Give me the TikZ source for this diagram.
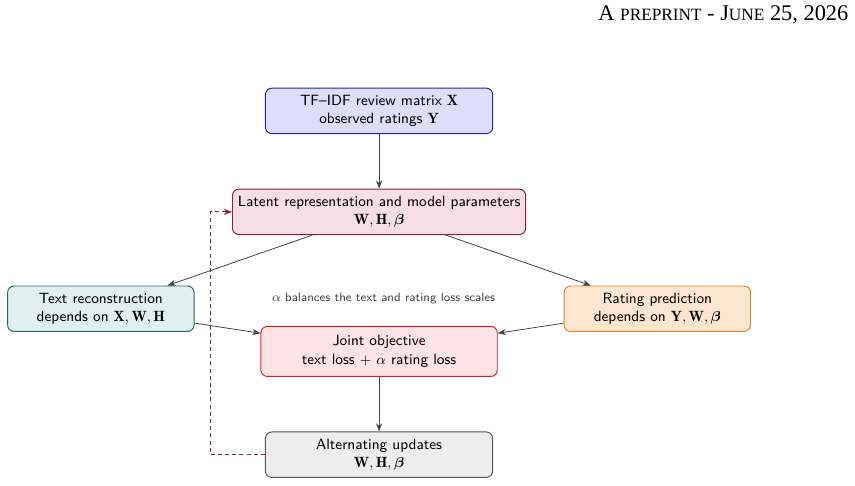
\documentclass[tikz,border=0pt]{standalone}
\usepackage{amsmath,bm}
\usepackage{fontspec}
\newfontfamily\hdrfont{Liberation Serif}
\usetikzlibrary{arrows.meta,positioning}
\definecolor{arrgrey}{HTML}{444444}
\definecolor{inblue}{HTML}{2323C8}
\definecolor{inground}{HTML}{DEDEFA}
\definecolor{latred}{HTML}{8C1A4A}
\definecolor{latground}{HTML}{F5DEE6}
\definecolor{recteal}{HTML}{1C6B6B}
\definecolor{recground}{HTML}{DFF0EF}
\definecolor{ratorange}{HTML}{E8821E}
\definecolor{ratground}{HTML}{FDE6CF}
\definecolor{objred}{HTML}{CC2424}
\definecolor{objground}{HTML}{FDE3E5}
\definecolor{altgrey}{HTML}{555555}
\definecolor{altground}{HTML}{EDEDED}
\newcommand{\hsc}[1]{{\fontsize{10.8}{12}\selectfont #1}}

\begin{document}
\begin{tikzpicture}[node distance=12mm and 14.5mm, every node/.style={font=\sffamily\fontsize{9.3}{11.4}\selectfont},
  blk/.style={draw, semithick, rounded corners=4pt, align=center, minimum height=10mm, minimum width=50mm},
  arr/.style={-{Stealth[length=1.8mm]}, arrgrey, line width=0.5pt},
  fb/.style={arr, draw=latred, dash pattern=on 2.5pt off 2pt}]
\useasboundingbox (-8.34,-8.25) rectangle (10.47,2.44);
\node[anchor=east, inner sep=0pt, font=\hdrfont\fontsize{14}{16}\selectfont] (hdr) at (10.33,2.11) {A \hsc{PREPRINT} - J\hsc{UNE} 25, 2026};
\node[blk, draw=inblue, fill=inground] (data) at (0,0) {TF--IDF review matrix $\mathbf{X}$\\observed ratings $\mathbf{Y}$};
\node[blk, draw=latred, fill=latground, below=of data] (lat) {Latent representation and model parameters\\$\mathbf{W},\mathbf{H},\bm{\beta}$};
\node[blk, draw=objred, fill=objground, below=20mm of lat, minimum width=52mm, minimum height=11mm] (obj) {Joint objective\\text loss $+\ \alpha$ rating loss};
\node[blk, draw=recteal, fill=recground, left=of obj, yshift=9.4mm, minimum width=41mm] (rec) {Text reconstruction\\depends on $\mathbf{X},\mathbf{W},\mathbf{H}$};
\node[blk, draw=ratorange, fill=ratground, right=of obj, yshift=9.4mm, minimum width=41mm] (rat) {Rating prediction\\depends on $\mathbf{Y},\mathbf{W},\bm{\beta}$};
\node[above=3.5mm of obj, xshift=1mm, font=\sffamily\fontsize{7.6}{9}\selectfont, text=arrgrey] (note) {$\alpha$ balances the text and rating loss scales};
\node[blk, draw=altgrey, fill=altground, below=of obj] (alt) {Alternating updates\\$\mathbf{W},\mathbf{H},\bm{\beta}$};
\draw[arr] (data) -- (lat);
\draw[arr] (lat) -- (rec);
\draw[arr] (lat) -- (rat);
\draw[arr] (rec) -- (obj);
\draw[arr] (rat) -- (obj);
\draw[arr] (obj) -- (alt);
\draw[fb] (alt.west) -- ++(-12mm,0) |- (lat.west);
\end{tikzpicture}
\end{document}
